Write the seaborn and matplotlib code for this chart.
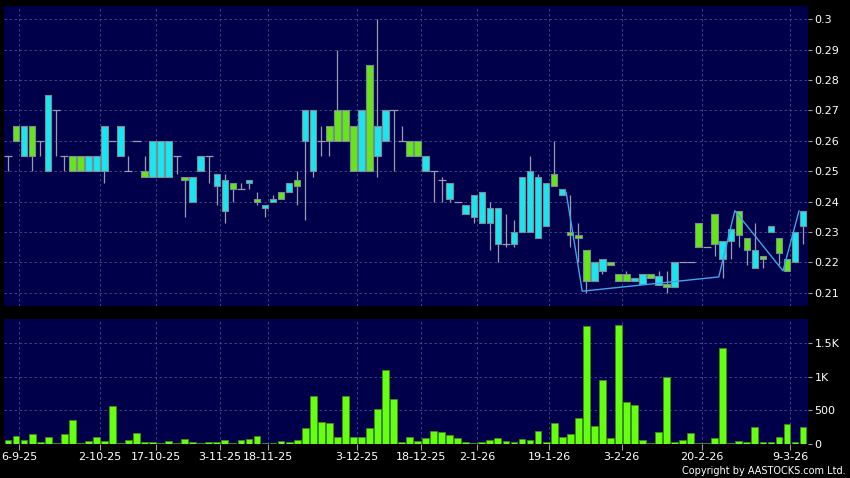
import matplotlib
matplotlib.use('Agg')
import numpy as np
import pandas as pd
import seaborn as sns
import matplotlib.pyplot as plt

# daily candles, trading days only (oldest first)
opens = [0.255, 0.260, 0.265, 0.255, 0.260, 0.275, 0.270, 0.255, 0.250, 0.250,
         0.255, 0.255, 0.265, 0.260, 0.265, 0.250, 0.260, 0.248, 0.260, 0.260,
         0.260, 0.255, 0.247, 0.248, 0.255, 0.255, 0.249, 0.247, 0.244, 0.244,
         0.247, 0.240, 0.239, 0.241, 0.241, 0.246, 0.245, 0.270, 0.270, 0.260,
         0.260, 0.260, 0.260, 0.250, 0.270, 0.250, 0.265, 0.270, 0.270, 0.260,
         0.255, 0.255, 0.255, 0.250, 0.247, 0.246, 0.240, 0.239, 0.242, 0.243,
         0.238, 0.238, 0.226, 0.230, 0.248, 0.250, 0.248, 0.246, 0.245, 0.244,
         0.229, 0.228, 0.214, 0.220, 0.221, 0.219, 0.214, 0.214, 0.215, 0.216,
         0.215, 0.2155, 0.212, 0.220, 0.220, 0.220, 0.225, 0.225, 0.226, 0.227,
         0.231, 0.229, 0.224, 0.224, 0.221, 0.232, 0.223, 0.217, 0.230, 0.237]
highs = [0.255, 0.265, 0.265, 0.265, 0.260, 0.275, 0.270, 0.255, 0.255, 0.255,
         0.255, 0.255, 0.265, 0.260, 0.265, 0.255, 0.260, 0.255, 0.260, 0.260,
         0.260, 0.255, 0.248, 0.248, 0.255, 0.255, 0.249, 0.249, 0.246, 0.246,
         0.247, 0.243, 0.239, 0.242, 0.243, 0.246, 0.250, 0.270, 0.270, 0.265,
         0.265, 0.290, 0.270, 0.265, 0.270, 0.285, 0.300, 0.270, 0.270, 0.265,
         0.260, 0.260, 0.255, 0.250, 0.248, 0.246, 0.240, 0.239, 0.242, 0.243,
         0.240, 0.238, 0.236, 0.234, 0.248, 0.255, 0.249, 0.246, 0.260, 0.244,
         0.242, 0.233, 0.224, 0.220, 0.221, 0.220, 0.216, 0.217, 0.215, 0.216,
         0.216, 0.217, 0.217, 0.220, 0.220, 0.220, 0.233, 0.225, 0.236, 0.227,
         0.231, 0.237, 0.228, 0.233, 0.222, 0.232, 0.228, 0.221, 0.230, 0.237]
lows = [0.250, 0.260, 0.255, 0.250, 0.255, 0.250, 0.255, 0.250, 0.250, 0.250,
        0.250, 0.250, 0.246, 0.260, 0.255, 0.250, 0.260, 0.248, 0.248, 0.248,
        0.248, 0.249, 0.235, 0.240, 0.250, 0.246, 0.239, 0.233, 0.240, 0.244,
        0.244, 0.239, 0.235, 0.240, 0.241, 0.243, 0.239, 0.234, 0.248, 0.255,
        0.255, 0.260, 0.260, 0.250, 0.250, 0.250, 0.248, 0.260, 0.250, 0.260,
        0.255, 0.255, 0.250, 0.240, 0.240, 0.240, 0.240, 0.236, 0.233, 0.233,
        0.224, 0.220, 0.225, 0.225, 0.230, 0.230, 0.228, 0.232, 0.245, 0.242,
        0.225, 0.220, 0.210, 0.214, 0.216, 0.219, 0.214, 0.214, 0.214, 0.213,
        0.215, 0.2125, 0.210, 0.212, 0.220, 0.220, 0.225, 0.225, 0.222, 0.215,
        0.221, 0.225, 0.219, 0.218, 0.218, 0.230, 0.219, 0.217, 0.220, 0.226]
closes = [0.255, 0.265, 0.255, 0.265, 0.260, 0.250, 0.270, 0.255, 0.255, 0.255,
          0.250, 0.250, 0.250, 0.260, 0.255, 0.250, 0.260, 0.250, 0.248, 0.248,
          0.248, 0.255, 0.248, 0.240, 0.250, 0.255, 0.245, 0.237, 0.246, 0.244,
          0.246, 0.241, 0.238, 0.240, 0.243, 0.243, 0.247, 0.260, 0.250, 0.260,
          0.265, 0.270, 0.270, 0.265, 0.250, 0.285, 0.255, 0.260, 0.270, 0.260,
          0.260, 0.260, 0.250, 0.250, 0.247, 0.241, 0.240, 0.236, 0.235, 0.233,
          0.233, 0.226, 0.226, 0.226, 0.230, 0.230, 0.228, 0.232, 0.249, 0.242,
          0.230, 0.229, 0.224, 0.214, 0.217, 0.220, 0.216, 0.216, 0.214, 0.213,
          0.216, 0.2125, 0.213, 0.212, 0.220, 0.220, 0.233, 0.225, 0.236, 0.221,
          0.227, 0.237, 0.228, 0.218, 0.222, 0.230, 0.228, 0.221, 0.220, 0.232]
volumes = [50, 105, 45, 145, 15, 90, 3, 135, 345, 10,
           35, 90, 30, 565, 10, 45, 150, 20, 15, 3,
           30, 3, 60, 15, 10, 15, 20, 45, 5, 45,
           65, 105, 3, 10, 30, 15, 55, 230, 705, 315,
           305, 95, 710, 90, 90, 235, 510, 1100, 670, 15,
           95, 35, 85, 190, 165, 125, 80, 15, 3, 15,
           45, 85, 40, 20, 65, 55, 180, 15, 310, 95,
           135, 380, 1760, 260, 950, 75, 1770, 615, 570, 55,
           3, 175, 990, 15, 55, 150, 10, 3, 80, 1430,
           10, 30, 20, 240, 15, 25, 95, 290, 15, 240]

# zigzag line (day index, price)
zigzag_days = [70, 72, 89, 91, 97, 99]
zigzag_prices = [0.243, 0.2105, 0.2152, 0.237, 0.2172, 0.237]

date_labels = ['6-9-25', '2-10-25', '17-10-25', '3-11-25', '18-11-25', '3-12-25',
               '18-12-25', '2-1-26', '19-1-26', '3-2-26', '20-2-26', '9-3-26']
date_days = [1, 11, 18, 26, 32, 43, 51, 58, 67, 76, 86, 97]

price_ticks = [0.21, 0.22, 0.23, 0.24, 0.25, 0.26, 0.27, 0.28, 0.29, 0.30]
price_tick_labels = ['0.21', '0.22', '0.23', '0.24', '0.25', '0.26', '0.27', '0.28', '0.29', '0.3']
vol_ticks = [0, 500, 1000, 1500]
vol_tick_labels = ['0', '500', '1K', '1.5K']

NAVY = '#00004a'
GRID = '#4a4a8c'
CYAN = '#19e6ee'
GREEN = '#66e619'
WICK = '#9a9aae'

df = pd.DataFrame({'open': opens, 'high': highs, 'low': lows, 'close': closes, 'volume': volumes})
df['day'] = np.arange(len(df))

sns.set_theme(style='dark', rc={'axes.facecolor': NAVY, 'figure.facecolor': 'black',
                                'savefig.facecolor': 'black'})
plt.rcParams['font.family'] = ['DejaVu Sans']

fig = plt.figure(figsize=(8.5, 4.78), dpi=100)
ax = fig.add_axes([4 / 850, 1 - 306 / 478, 803.5 / 850, 300 / 478])
axv = fig.add_axes([4 / 850, 1 - 443.5 / 478, 803.5 / 850, 124.5 / 478])

xlim = (-0.5, 99.55)
grid_kw = dict(color=GRID, linestyle=(0, (3, 3)), linewidth=0.6)

# price panel
ax.vlines(df['day'], df['low'], df['high'], color=WICK, linewidth=0.9, zorder=2)
body = df[df['open'] != df['close']]
colors = [GREEN if c > o else CYAN for o, c in zip(body['open'], body['close'])]
ax.bar(body['day'], (body['close'] - body['open']).abs(),
       bottom=body[['open', 'close']].min(axis=1), width=0.82,
       color=colors, edgecolor='#7c8c94', linewidth=0.8, zorder=3)
flat = df[df['open'] == df['close']]
ax.hlines(flat['open'], flat['day'] - 0.5, flat['day'] + 0.5, color=WICK, linewidth=0.9, zorder=2)
ax.plot(np.array(zigzag_days) - 0.5, zigzag_prices, color='#3fa4ec', linewidth=1.0, zorder=4)

ax.set_xlim(*xlim)
ax.set_ylim(0.20563, 0.30437)
ax.set_yticks(price_ticks)
ax.set_yticklabels(price_tick_labels)
ax.set_xticks(np.array(date_days) + 0.4)
ax.set_xticklabels([])
ax.yaxis.tick_right()
ax.tick_params(axis='y', colors=WICK, labelcolor='white', labelsize=8, length=3, width=0.8,
               direction='out', pad=2, right=True, left=False)
ax.tick_params(axis='x', length=0)
ax.grid(True, **grid_kw)
ax.set_axisbelow(True)
for s in ax.spines.values():
    s.set_visible(False)

# volume panel
sns.barplot(data=df, x='day', y='volume', native_scale=True, color='#66ff11',
            saturation=1, width=0.85, edgecolor='#3c8c1a', linewidth=0.6,
            errorbar=None, ax=axv, zorder=3)
axv.set_xlim(*xlim)
axv.set_ylim(0, 1865)
axv.set_yticks(vol_ticks)
axv.set_yticklabels(vol_tick_labels)
axv.set_xticks(np.array(date_days) + 0.4)
axv.set_xticklabels(date_labels)
axv.set_xlabel('')
axv.set_ylabel('')
axv.yaxis.tick_right()
axv.tick_params(axis='y', colors=WICK, labelcolor='white', labelsize=8, length=3, width=0.8,
                direction='out', pad=2, right=True, left=False)
axv.tick_params(axis='x', colors=WICK, labelcolor='white', labelsize=8, length=4, width=0.8,
                direction='out', pad=2, bottom=True)
axv.grid(True, **grid_kw)
axv.set_axisbelow(True)
for s in axv.spines.values():
    s.set_visible(False)

fig.text(846 / 850, 1 - 471 / 478, 'Copyright by AASTOCKS.com Ltd.', color='white',
         fontsize=7, ha='right', va='center')

fig.savefig('out.png', dpi=100, facecolor='black')
